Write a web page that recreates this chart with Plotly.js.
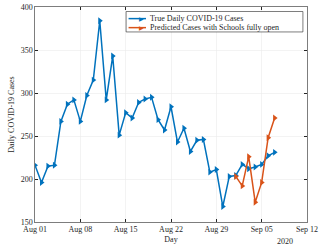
<!DOCTYPE html>
<html><head><meta charset="utf-8">
<script src="https://cdn.plot.ly/plotly-3.0.1.min.js"></script>
<style>body{margin:0;padding:0;background:#fff}#c{width:319px;height:247px}</style>
</head><body><div id="c"></div>
<script>
const trueDates = ["2020-08-01","2020-08-02","2020-08-03","2020-08-04","2020-08-05","2020-08-06","2020-08-07","2020-08-08","2020-08-09","2020-08-10","2020-08-11","2020-08-12","2020-08-13","2020-08-14","2020-08-15","2020-08-16","2020-08-17","2020-08-18","2020-08-19","2020-08-20","2020-08-21","2020-08-22","2020-08-23","2020-08-24","2020-08-25","2020-08-26","2020-08-27","2020-08-28","2020-08-29","2020-08-30","2020-08-31","2020-09-01","2020-09-02","2020-09-03","2020-09-04","2020-09-05","2020-09-06","2020-09-07"];
const trueCases = [216,196,215,216,267,287,292,267,297,315,384,292,343,251,277,271,289,293,295,269,257,284,243,259,232,245,246,208,211,168,203,204,217,212,214,217,227,231];
const predDates = ["2020-09-01","2020-09-02","2020-09-03","2020-09-04","2020-09-05","2020-09-06","2020-09-07"];
const predCases = [203,192,226,173,196,248,271];
const tickVals = ["2020-08-01","2020-08-08","2020-08-15","2020-08-22","2020-08-29","2020-09-05","2020-09-12"];
const tickText = ["Aug 01","Aug 08","Aug 15","Aug 22","Aug 29","Sep 05","Sep 12"];
const seriesNames = ["True Daily COVID-19 Cases","Predicted Cases with Schools fully open"];
const seriesColors = ["#0072BD","#D95319"];

const font = {family:"Liberation Serif, Times New Roman, serif", size:8, color:"#262626"};
const traces = [
 {x:trueDates, y:trueCases, name:seriesNames[0], type:"scatter", mode:"lines+markers",
  line:{color:seriesColors[0], width:1.5}, marker:{symbol:"triangle-right", size:6, color:seriesColors[0]}},
 {x:predDates, y:predCases, name:seriesNames[1], type:"scatter", mode:"lines+markers",
  line:{color:seriesColors[1], width:1.5}, marker:{symbol:"triangle-right", size:6, color:seriesColors[1]}}
];
const ax = {showline:true, linecolor:"#262626", linewidth:0.6, mirror:"ticks", ticks:"inside", ticklen:3, tickcolor:"#262626",
  showgrid:true, gridcolor:"#ebebeb", gridwidth:0.6, zeroline:false, tickfont:font};

// hand-built compact legend (MATLAB style)
const legRows = [0.946, 0.904];
const shapes = [{type:"rect", xref:"paper", yref:"paper", x0:0.335, x1:0.985, y0:0.884, y1:0.979,
  line:{color:"#262626", width:0.6}, fillcolor:"#fff", layer:"above"}];
const annotations = [{text:"2020", xref:"paper", yref:"paper", x:0.92, y:0, yshift:-13, xanchor:"center", yanchor:"top", showarrow:false, font:font}];
seriesNames.forEach((n,i)=>{
  shapes.push({type:"line", xref:"paper", yref:"paper", x0:0.344, x1:0.408, y0:legRows[i], y1:legRows[i],
    line:{color:seriesColors[i], width:1.5}, layer:"above"});
  annotations.push({text:"▶", xref:"paper", yref:"paper", x:0.390, y:legRows[i], xanchor:"center", yanchor:"middle",
    showarrow:false, font:{family:"DejaVu Sans", size:6, color:seriesColors[i]}});
  annotations.push({text:n, xref:"paper", yref:"paper", x:0.414, y:legRows[i], xanchor:"left", yanchor:"middle",
    showarrow:false, font:font});
});

const layout = {
  width:319, height:247, margin:{l:35, r:12, t:7, b:25},
  paper_bgcolor:"#fff", plot_bgcolor:"#fff", font:font,
  xaxis:Object.assign({}, ax, {type:"date", range:["2020-08-01","2020-09-12"], tickvals:tickVals, ticktext:tickText,
    title:{text:"Day", font:font, standoff:2}}),
  yaxis:Object.assign({}, ax, {range:[150,400], tickvals:[150,200,250,300,350,400],
    title:{text:"Daily COVID-19 Cases", font:font, standoff:4}}),
  showlegend:false,
  shapes:shapes,
  annotations:annotations
};
Plotly.newPlot("c", traces, layout, {displayModeBar:false, staticPlot:true});
</script></body></html>
